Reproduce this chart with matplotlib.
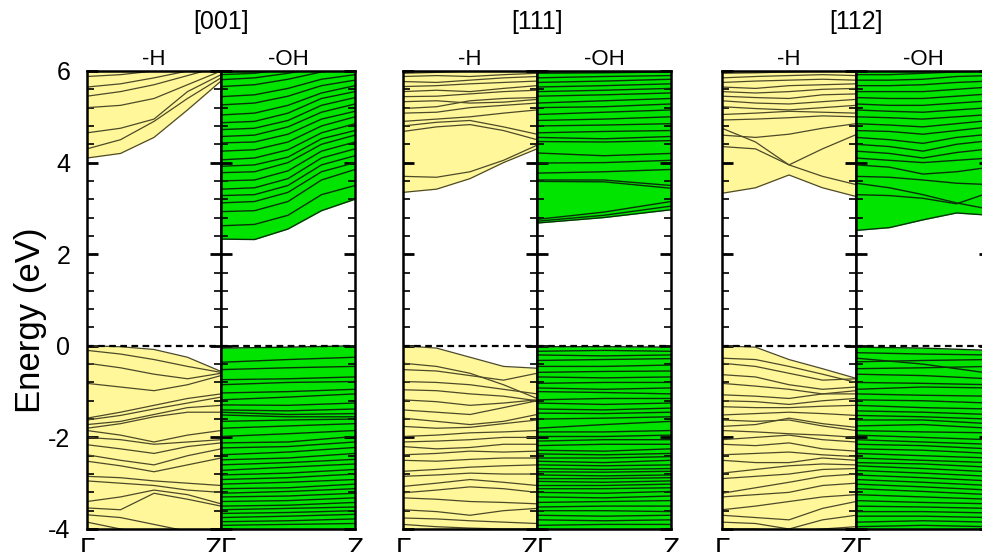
import numpy as np
import matplotlib.pyplot as plt
from matplotlib.ticker import MultipleLocator

plt.rcParams['font.family'] = ['Liberation Sans', 'DejaVu Sans']
plt.rcParams['axes.unicode_minus'] = False

# k-points along Gamma -> Z
k5 = [0, 0.25, 0.5, 0.75, 1]
k3 = [0, 0.5, 1]

# ---------------- [001] ----------------
cb_001_h = [
    [4.10, 4.20, 4.55, 5.15, 5.78],
    [4.30, 4.50, 4.90, 5.40, 5.85],
    [4.65, 4.75, 4.95, 5.55, 5.92],
    [5.20, 5.25, 5.40, 5.70, 6.00],
    [5.45, 5.55, 5.70, 5.90, 6.10],
    [5.65, 5.72, 5.85, 6.00, 6.10],
    [5.88, 5.92, 6.00, 6.10, 6.20],
    [5.98, 6.02, 6.10, 6.20, 6.20],
]
vb_001_h = [
    [0.00, -0.02, -0.08, -0.25, -0.56],
    [-0.10, -0.18, -0.30, -0.45, -0.58],
    [-0.38, -0.48, -0.62, -0.72, -0.60],
    [-0.82, -0.90, -0.98, -0.85, -0.65],
    [-1.58, -1.45, -1.30, -1.15, -1.05],
    [-1.62, -1.52, -1.38, -1.25, -1.12],
    [-1.72, -1.65, -1.50, -1.35, -1.30],
    [-1.80, -1.70, -1.55, -1.45, -1.45],
    [-1.85, -1.95, -2.10, -1.95, -1.85],
    [-2.00, -2.05, -2.15, -2.10, -2.05],
    [-2.16, -2.25, -2.35, -2.20, -2.12],
    [-2.38, -2.50, -2.60, -2.40, -2.25],
    [-2.52, -2.62, -2.75, -2.60, -2.45],
    [-2.85, -2.88, -2.95, -3.00, -3.05],
    [-2.95, -3.00, -3.05, -3.15, -3.20],
    [-3.40, -3.30, -3.15, -3.25, -3.45],
    [-3.54, -3.58, -3.22, -3.35, -3.50],
    [-3.69, -3.75, -3.90, -4.05, -4.10],
    [-3.85, -4.00, -4.10, -4.20, -4.20],
]
cb_001_oh = [
    [2.33, 2.32, 2.55, 2.95, 3.20],
    [2.62, 2.65, 2.85, 3.30, 3.50],
    [2.93, 2.95, 3.15, 3.62, 3.85],
    [3.12, 3.15, 3.35, 3.80, 4.00],
    [3.28, 3.30, 3.50, 3.95, 4.15],
    [3.42, 3.45, 3.65, 4.10, 4.30],
    [3.60, 3.62, 3.82, 4.25, 4.45],
    [3.78, 3.80, 4.00, 4.40, 4.60],
    [3.92, 3.95, 4.12, 4.52, 4.70],
    [4.06, 4.10, 4.28, 4.65, 4.85],
    [4.25, 4.28, 4.45, 4.80, 5.00],
    [4.43, 4.45, 4.62, 4.95, 5.12],
    [4.57, 4.60, 4.78, 5.10, 5.28],
    [4.72, 4.75, 4.92, 5.25, 5.42],
    [4.87, 4.90, 5.08, 5.40, 5.55],
    [5.04, 5.08, 5.25, 5.52, 5.68],
    [5.26, 5.30, 5.45, 5.68, 5.80],
    [5.44, 5.48, 5.62, 5.82, 5.92],
    [5.66, 5.70, 5.82, 5.98, 6.05],
    [5.81, 5.85, 5.95, 6.08, 6.15],
    [5.92, 5.95, 6.05, 6.15, 6.20],
]
vb_001_oh = [
    [-0.05, -0.03, 0.00], [-0.36, -0.30, -0.25], [-0.52, -0.48, -0.45],
    [-0.74, -0.72, -0.68], [-0.85, -0.80, -0.78], [-1.03, -1.00, -0.95],
    [-1.18, -1.12, -1.05], [-1.29, -1.30, -1.25], [-1.40, -1.42, -1.38],
    [-1.45, -1.50, -1.48], [-1.51, -1.55, -1.55], [-1.65, -1.62, -1.60],
    [-1.80, -1.75, -1.70], [-1.98, -1.92, -1.85], [-2.12, -2.10, -1.98],
    [-2.23, -2.20, -2.10], [-2.38, -2.32, -2.22], [-2.49, -2.45, -2.35],
    [-2.60, -2.55, -2.48], [-2.72, -2.65, -2.58], [-2.82, -2.78, -2.70],
    [-2.92, -2.88, -2.80], [-3.02, -2.98, -2.92], [-3.12, -3.10, -3.02],
    [-3.22, -3.18, -3.12], [-3.30, -3.28, -3.22], [-3.40, -3.38, -3.32],
    [-3.50, -3.48, -3.42], [-3.58, -3.55, -3.52], [-3.66, -3.64, -3.60],
    [-3.75, -3.72, -3.68], [-3.84, -3.82, -3.78], [-3.92, -3.90, -3.88],
]

# ---------------- [111] ----------------
cb_111_h = [
    [3.35, 3.42, 3.65, 4.00, 4.30],
    [3.70, 3.68, 3.80, 4.05, 4.38],
    [4.68, 4.78, 4.83, 4.70, 4.50],
    [4.80, 4.88, 4.92, 4.78, 4.62],
    [4.90, 4.95, 5.00, 5.08, 5.15],
    [5.08, 5.10, 5.20, 5.25, 5.30],
    [5.18, 5.22, 5.35, 5.40, 5.42],
    [5.33, 5.35, 5.30, 5.32, 5.38],
    [5.44, 5.45, 5.50, 5.55, 5.58],
    [5.55, 5.58, 5.55, 5.62, 5.68],
    [5.66, 5.68, 5.72, 5.75, 5.78],
    [5.77, 5.75, 5.80, 5.85, 5.88],
    [5.88, 5.90, 5.88, 5.92, 5.95],
    [5.95, 5.97, 6.00, 6.02, 6.00],
]
vb_111_h = [
    [0.00, -0.05, -0.25, -0.45, -0.49],
    [-0.38, -0.45, -0.60, -0.85, -1.15],
    [-0.52, -0.55, -0.65, -0.75, -0.60],
    [-0.78, -0.80, -0.85, -0.95, -1.05],
    [-0.96, -0.98, -1.05, -1.10, -1.20],
    [-1.18, -1.22, -1.30, -1.25, -1.18],
    [-1.40, -1.45, -1.50, -1.35, -1.20],
    [-1.58, -1.65, -1.72, -1.65, -1.50],
    [-1.76, -1.80, -1.78, -1.70, -1.62],
    [-1.98, -1.95, -1.90, -1.88, -1.85],
    [-2.10, -2.08, -2.05, -2.00, -2.00],
    [-2.20, -2.25, -2.22, -2.15, -2.15],
    [-2.38, -2.35, -2.30, -2.32, -2.30],
    [-2.50, -2.52, -2.48, -2.45, -2.45],
    [-2.74, -2.70, -2.65, -2.62, -2.60],
    [-2.85, -2.82, -2.78, -2.80, -2.80],
    [-3.07, -3.00, -2.92, -2.98, -3.05],
    [-3.21, -3.15, -3.08, -3.12, -3.20],
    [-3.32, -3.35, -3.40, -3.42, -3.45],
    [-3.58, -3.62, -3.70, -3.60, -3.55],
    [-3.76, -3.78, -3.82, -3.85, -3.88],
    [-3.90, -3.95, -3.98, -4.00, -4.00],
]
cb_111_oh = [
    [2.68, 2.80, 2.97], [2.72, 2.85, 3.05], [2.76, 2.92, 3.15],
    [3.59, 3.58, 3.44], [3.62, 3.62, 3.50], [3.77, 3.80, 3.85],
    [3.99, 4.00, 4.05], [4.21, 4.15, 4.20], [4.46, 4.45, 4.48],
    [4.55, 4.52, 4.57], [4.65, 4.68, 4.70], [4.80, 4.82, 4.85],
    [4.92, 4.95, 5.00], [5.05, 5.10, 5.15], [5.20, 5.22, 5.28],
    [5.30, 5.35, 5.40], [5.45, 5.48, 5.52], [5.55, 5.58, 5.62],
    [5.65, 5.68, 5.72], [5.75, 5.78, 5.82], [5.85, 5.88, 5.90],
    [5.95, 5.96, 5.98],
]
vb_111_oh = [
    [-0.02, -0.02, -0.03], [-0.12, -0.10, -0.12], [-0.20, -0.22, -0.20],
    [-0.32, -0.30, -0.28], [-0.45, -0.45, -0.42], [-0.58, -0.56, -0.55],
    [-0.68, -0.70, -0.68], [-0.82, -0.80, -0.80], [-0.92, -0.95, -0.92],
    [-1.00, -1.02, -1.05], [-1.18, -1.15, -1.15], [-1.25, -1.28, -1.25],
    [-1.38, -1.40, -1.36], [-1.47, -1.48, -1.45], [-1.60, -1.58, -1.55],
    [-1.80, -1.72, -1.65], [-1.88, -1.88, -1.85], [-1.98, -1.98, -1.95],
    [-2.08, -2.05, -2.05], [-2.18, -2.15, -2.15], [-2.28, -2.30, -2.25],
    [-2.36, -2.38, -2.35], [-2.45, -2.45, -2.42], [-2.52, -2.55, -2.50],
    [-2.60, -2.62, -2.60], [-2.68, -2.70, -2.68], [-2.75, -2.76, -2.74],
    [-2.82, -2.84, -2.82], [-2.90, -2.90, -2.88], [-2.96, -2.98, -2.95],
    [-3.05, -3.05, -3.02], [-3.12, -3.12, -3.10], [-3.20, -3.22, -3.18],
    [-3.30, -3.32, -3.28], [-3.42, -3.40, -3.38], [-3.52, -3.50, -3.50],
    [-3.60, -3.60, -3.62], [-3.70, -3.72, -3.70], [-3.80, -3.82, -3.80],
    [-3.92, -3.90, -3.90],
]

# ---------------- [112] ----------------
cb_112_h = [
    [3.33, 3.45, 3.73, 3.45, 3.26],
    [4.75, 4.45, 3.95, 3.70, 3.52],
    [4.35, 4.30, 3.95, 4.30, 4.61],
    [4.60, 4.55, 4.62, 4.75, 4.85],
    [4.93, 4.95, 4.98, 5.02, 5.00],
    [5.05, 5.08, 5.12, 5.10, 5.08],
    [5.22, 5.18, 5.15, 5.20, 5.25],
    [5.35, 5.30, 5.28, 5.33, 5.38],
    [5.45, 5.42, 5.40, 5.48, 5.50],
    [5.55, 5.52, 5.55, 5.60, 5.62],
    [5.65, 5.62, 5.68, 5.70, 5.72],
    [5.75, 5.78, 5.80, 5.82, 5.80],
    [5.85, 5.88, 5.90, 5.92, 5.90],
    [5.95, 5.96, 5.98, 6.00, 6.00],
]
vb_112_h = [
    [0.00, -0.03, -0.30, -0.50, -0.71],
    [-0.27, -0.30, -0.45, -0.62, -0.80],
    [-0.38, -0.45, -0.60, -0.75, -0.72],
    [-0.63, -0.68, -0.85, -0.95, -0.90],
    [-0.82, -0.88, -0.95, -1.05, -1.05],
    [-1.07, -1.10, -1.15, -1.05, -0.98],
    [-1.20, -1.22, -1.28, -1.20, -1.15],
    [-1.33, -1.35, -1.35, -1.32, -1.30],
    [-1.51, -1.48, -1.45, -1.48, -1.52],
    [-1.62, -1.65, -1.62, -1.75, -1.85],
    [-1.76, -1.72, -1.58, -1.70, -1.78],
    [-1.85, -1.88, -1.92, -1.95, -2.00],
    [-2.05, -2.00, -1.95, -2.05, -2.10],
    [-2.15, -2.18, -2.12, -2.25, -2.30],
    [-2.38, -2.35, -2.32, -2.38, -2.42],
    [-2.50, -2.55, -2.55, -2.45, -2.50],
    [-2.78, -2.70, -2.62, -2.58, -2.60],
    [-2.90, -2.85, -2.80, -2.70, -2.68],
    [-3.22, -3.10, -2.98, -2.85, -2.80],
    [-3.30, -3.25, -3.20, -3.05, -3.00],
    [-3.58, -3.50, -3.40, -3.30, -3.25],
    [-3.70, -3.75, -3.80, -3.55, -3.40],
    [-3.85, -3.88, -4.00, -3.80, -3.70],
    [-4.00, -4.00, -4.05, -4.00, -3.95],
]
cb_112_oh = [
    [2.52, 2.58, 2.75, 2.90, 2.85],
    [3.30, 3.28, 3.22, 3.10, 3.35],
    [3.55, 3.45, 3.30, 3.12, 2.98],
    [3.70, 3.68, 3.62, 3.55, 3.52],
    [3.95, 3.90, 3.75, 3.80, 3.90],
    [4.10, 4.05, 4.00, 4.05, 4.10],
    [4.25, 4.20, 4.10, 4.22, 4.30],
    [4.40, 4.35, 4.25, 4.40, 4.48],
    [4.55, 4.50, 4.42, 4.55, 4.62],
    [4.70, 4.68, 4.62, 4.70, 4.78],
    [4.85, 4.82, 4.78, 4.85, 4.92],
    [5.00, 4.98, 4.95, 5.00, 5.05],
    [5.15, 5.12, 5.10, 5.15, 5.20],
    [5.28, 5.25, 5.25, 5.30, 5.35],
    [5.42, 5.40, 5.40, 5.45, 5.50],
    [5.55, 5.55, 5.55, 5.60, 5.65],
    [5.68, 5.68, 5.70, 5.75, 5.78],
    [5.80, 5.80, 5.82, 5.88, 5.90],
    [5.92, 5.92, 5.95, 5.98, 6.00],
]
vb_112_oh = [
    [-0.03, -0.05, -0.10], [-0.15, -0.18, -0.20], [-0.27, -0.40, -0.60],
    [-0.35, -0.32, -0.30], [-0.50, -0.48, -0.45], [-0.62, -0.65, -0.72],
    [-0.80, -0.82, -0.85], [-0.95, -0.90, -0.92], [-1.05, -1.08, -1.10],
    [-1.18, -1.20, -1.25], [-1.30, -1.35, -1.38], [-1.42, -1.45, -1.50],
    [-1.52, -1.55, -1.60], [-1.62, -1.62, -1.70], [-1.75, -1.72, -1.80],
    [-1.85, -1.88, -1.90], [-1.95, -2.00, -2.05], [-2.05, -2.10, -2.15],
    [-2.15, -2.18, -2.25], [-2.25, -2.28, -2.35], [-2.35, -2.40, -2.45],
    [-2.45, -2.50, -2.55], [-2.55, -2.58, -2.65], [-2.62, -2.68, -2.75],
    [-2.72, -2.78, -2.85], [-2.82, -2.88, -2.95], [-2.92, -2.98, -3.05],
    [-3.02, -3.08, -3.15], [-3.12, -3.18, -3.25], [-3.25, -3.30, -3.35],
    [-3.38, -3.42, -3.45], [-3.50, -3.52, -3.55], [-3.62, -3.62, -3.65],
    [-3.72, -3.72, -3.75], [-3.85, -3.82, -3.85], [-3.95, -3.92, -3.95],
]

facets = ['[001]', '[111]', '[112]']
yellow, green = '#fff799', '#00e400'
line_h, line_oh = '#4d4a2a', '#0a300a'

W, H = 982, 552
fig = plt.figure(figsize=(W / 100, H / 100), dpi=100)

lefts = [87, 403, 722]   # pixel left edge of each [hkl] group
pw = 134                 # pixel width of one panel
top, bot = 71, 529

groups = [
    (k5, cb_001_h, k5, vb_001_h, k5, cb_001_oh, k3, vb_001_oh),
    (k5, cb_111_h, k5, vb_111_h, k3, cb_111_oh, k3, vb_111_oh),
    (k5, cb_112_h, k5, vb_112_h, k5, cb_112_oh, k3, vb_112_oh),
]


def draw_panel(ax, kc, cb, kv, vb, face, lc, lw):
    cb = np.array(cb)
    vb = np.array(vb)
    ax.fill_between(kc, cb.min(axis=0), 7, color=face, lw=0)
    ax.fill_between(kv, -5, vb.max(axis=0), color=face, lw=0)
    for b in cb:
        ax.plot(kc, b, color=lc, lw=lw)
    for b in vb:
        ax.plot(kv, b, color=lc, lw=lw)
    ax.axhline(0, color='k', lw=1.6, ls=(0, (3, 2)))
    ax.set_xlim(0, 1)
    ax.set_ylim(-4, 6)
    ax.yaxis.set_major_locator(MultipleLocator(2))
    ax.yaxis.set_minor_locator(MultipleLocator(0.4))
    ax.tick_params(axis='y', which='both', direction='in', left=True, right=True)
    ax.tick_params(axis='y', which='major', length=8, width=2)
    ax.tick_params(axis='y', which='minor', length=5, width=1.2)
    ax.tick_params(axis='x', length=0, pad=6, labelsize=20)
    for s in ax.spines.values():
        s.set_linewidth(1.8)


for g, (x0, data, name) in enumerate(zip(lefts, groups, facets)):
    kc_h, cb_h, kv_h, vb_h, kc_oh, cb_oh, kv_oh, vb_oh = data
    ax_h = fig.add_axes([x0 / W, 1 - bot / H, pw / W, (bot - top) / H])
    ax_oh = fig.add_axes([(x0 + pw) / W, 1 - bot / H, pw / W, (bot - top) / H])
    draw_panel(ax_h, kc_h, cb_h, kv_h, vb_h, yellow, line_h, 0.9)
    draw_panel(ax_oh, kc_oh, cb_oh, kv_oh, vb_oh, green, line_oh, 1.0)

    ax_h.set_xticks([0, 1])
    ax_h.set_xticklabels(['Γ', 'Z'])
    ax_h.get_xticklabels()[1].set_horizontalalignment('right')
    ax_oh.set_xticks([0, 1])
    ax_oh.set_xticklabels(['Γ', 'Z'])
    ax_oh.get_xticklabels()[0].set_horizontalalignment('left')

    ax_h.set_title('-H', fontsize=16, pad=4)
    ax_oh.set_title('-OH', fontsize=16, pad=4)
    fig.text((x0 + pw) / W, 1 - 22 / H, name, fontsize=18, ha='center', va='center')

    if g == 0:
        ax_h.set_yticks([-4, -2, 0, 2, 4, 6])
        ax_h.tick_params(axis='y', labelsize=18, pad=12)
        ax_h.set_ylabel('Energy (eV)', fontsize=25)
        ax_h.yaxis.set_label_coords(-0.30, 0.455)
    else:
        ax_h.set_yticklabels([])
    ax_oh.set_yticklabels([])

fig.savefig('out.png', dpi=100)
